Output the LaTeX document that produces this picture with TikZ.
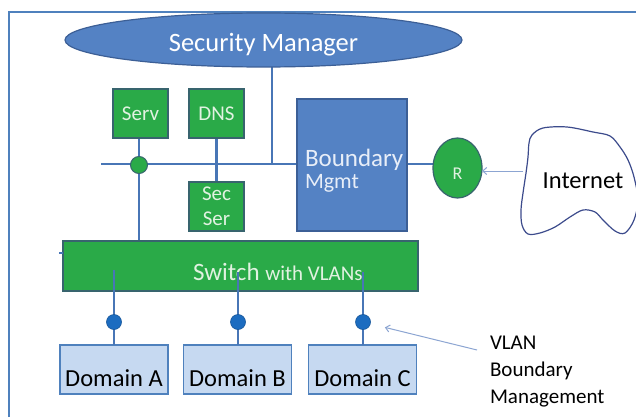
\documentclass[tikz,border=0pt]{standalone}
\usepackage{fontspec}
\setmainfont{Carlito}
\usetikzlibrary{arrows.meta,shapes.geometric,calc}
\pgfdeclarelayer{bg}
\pgfdeclarelayer{paper}
\pgfsetlayers{paper,bg,main}
\definecolor{frameblue}{RGB}{79,129,189}
\definecolor{lineblue}{RGB}{72,118,182}
\definecolor{ellfill}{RGB}{84,130,196}
\definecolor{elldraw}{RGB}{60,95,150}
\definecolor{gfill}{RGB}{42,170,72}
\definecolor{gdraw}{RGB}{56,100,110}
\definecolor{gtext}{RGB}{225,242,225}
\definecolor{btext}{RGB}{232,238,248}
\definecolor{domfill}{RGB}{198,217,241}
\definecolor{domdraw}{RGB}{79,129,189}
\definecolor{dotblue}{RGB}{28,108,192}
\definecolor{arrblue}{RGB}{140,165,210}
\definecolor{cloudline}{RGB}{60,75,140}
\tikzset{
  gbox/.style={draw=gdraw, fill=gfill, line width=1.2pt, minimum width=55pt, minimum height=49pt, text=gtext, font=\fontsize{21}{25}\selectfont},
  conn/.style={draw=lineblue, line width=2.4pt},
  dom/.style={draw=domdraw, fill=domfill, line width=1.2pt, minimum width=108pt, minimum height=49pt, font=\fontsize{24.5}{28}\selectfont, text height=33.5pt, text depth=0pt},
  vdot/.style={circle, fill=dotblue, draw=dotblue!80!black, line width=0.6pt, minimum size=15pt},
  note/.style={draw=arrblue, line width=1pt, -{Straight Barb[length=4pt,width=7pt]}},
  bluebox/.style={draw=elldraw, fill=ellfill, line width=1.2pt}
}
\begin{document}
\begin{tikzpicture}[x=1pt,y=-1pt, every node/.style={inner sep=0pt, outer sep=0pt}]
\begin{pgfonlayer}{paper}
\fill[white] (0,0) rectangle (636,417);
\end{pgfonlayer}
\useasboundingbox (0,0) rectangle (636,417);
% frame
\draw[frameblue, line width=1.5pt] (9,417) -- (9,12) -- (636,12);

% security manager
\node[ellipse, bluebox, minimum width=397pt, minimum height=54pt, text=white,
  font=\fontsize{26.5}{30}\selectfont, text height=23.8pt, text depth=0pt] (sm) at (263.5,40) {Security Manager};

% green boxes
\node[gbox, text height=13pt, text depth=0pt] (serv) at (140.5,113.5) {Serv};
\node[gbox, text height=13pt, text depth=0pt] (dns) at (216.5,113.5) {DNS};
\node[gbox, align=center] (sec) at (216.5,206.5) {Sec\\Ser};

% boundary mgmt
\node[bluebox, minimum width=110pt, minimum height=132pt] (bx) at (352,165) {};
\node[anchor=base west, text=btext, font=\fontsize{25}{25}\selectfont] (bt1) at (305,166) {Boundary};
\node[anchor=base west, text=btext, font=\fontsize{22}{22}\selectfont] (bt2) at (305,188) {Mgmt};

% router
\node[ellipse, draw=gdraw, fill=gfill, line width=1.2pt, minimum width=49pt, minimum height=60pt,
  text=gtext, font=\fontsize{18}{20}\selectfont, text height=23.6pt, text depth=0pt] (r) at (457.5,168) {R};

% small junction circle
\node[circle, draw=gdraw, fill=gfill, line width=1pt, minimum size=17pt] (sc) at (139,165) {};

% switch
\node[draw=gdraw, fill=gfill, line width=1.2pt, minimum width=355pt, minimum height=50pt] (sw) at (240.5,266) {};
\node[anchor=base west, text=gtext] (swt) at (193,280) {\fontsize{25}{25}\selectfont Switch {\fontsize{21}{21}\selectfont with VLANs}};

% domains
\node[dom] (da) at (114,369.5) {Domain A};
\node[dom] (db) at (237.5,369.5) {Domain B};
\node[dom] (dc) at (362.5,369.5) {Domain C};

% coordinates
\coordinate (busL) at (101,164);
\coordinate (smj) at ($(sm.center)+(8.5,0)$);
\coordinate (ta) at (114,270);
\coordinate (tb) at (238,272);
\coordinate (tc) at (363,272);
\coordinate (cl) at (523,171);
\coordinate (va) at (477,350);

% background connectors
\begin{pgfonlayer}{bg}
\draw[conn] (smj) -- (smj |- busL);
\draw[conn] (busL) -- (busL -| bx.west);
\draw[conn] (bx.east |- busL) -- (busL -| r.west);
\draw[conn] (serv.south -| sc) -- (sc);
\draw[conn] (dns) -- (sec);
\draw[conn] (sc) -- (sc |- sw.north);
\end{pgfonlayer}
\draw[conn] ([yshift=-12pt]sw.north west) -- ++(-4,0);

% switch to domain lines
\draw[conn] (ta) -- (ta |- da.north);
\draw[conn] (tb) -- (tb |- db.north);
\draw[conn] (tc) -- (tc |- dc.north);
\node[vdot] (pa) at (114,322) {};
\node[vdot] (pb) at (238,322) {};
\node[vdot] (pc) at (363,322) {};

% internet cloud
\draw[cloudline, line width=1.2pt, fill=white] plot[smooth cycle, tension=0.55] coordinates {
 (532,135) (543,128) (567,127) (593,132) (610,136) (620,147) (628,160) (634,177) (638,200)
 (634,220) (625,233) (615,231) (603,220) (595,212) (583,210) (570,217) (555,227)
 (540,233) (528,234) (522,225) (521,210) (523,193) (526,173) (528,157) (529,143)};
\node[anchor=base, font=\fontsize{24.5}{28}\selectfont] (inet) at (583,188) {Internet};
\draw[note] (cl) -- (cl -| r.east);

% VLAN note
\node[anchor=north west, align=left, font=\fontsize{21}{27}\selectfont] (vl) at (490,336.5) {VLAN\\Boundary\\Management};
\draw[note, shorten >=15pt] (va) -- (pc);
\end{tikzpicture}
\end{document}
